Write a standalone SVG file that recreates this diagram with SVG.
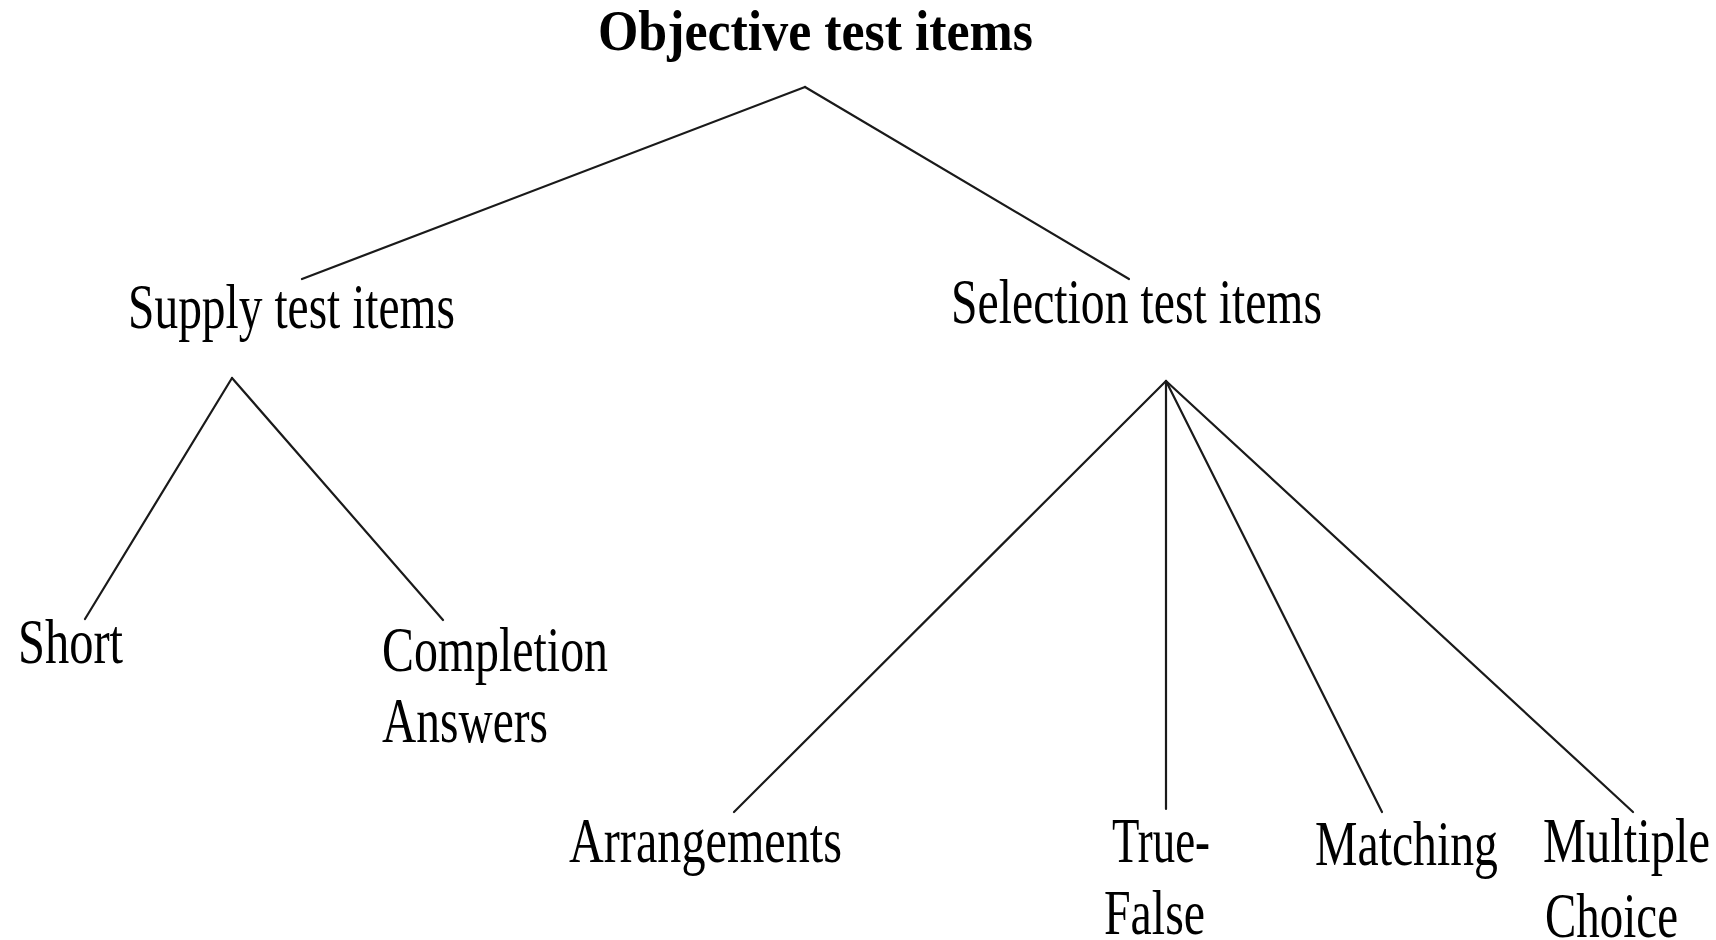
<svg xmlns="http://www.w3.org/2000/svg" width="1716" height="940" viewBox="0 0 1716 940">
<style>
text{font-family:"Liberation Serif","Times New Roman",serif;fill:#000;}
.t{font-size:56px;font-weight:bold;}
.n{font-size:63px;}
.c line{stroke:#1a1a1a;stroke-width:2.2;stroke-linecap:round;}
</style>
<rect width="1716" height="940" fill="#fff"/>
<g id="connectors" class="c">
<line x1="805" y1="87" x2="302" y2="279"/>
<line x1="805" y1="87" x2="1129" y2="279"/>
<line x1="232" y1="378" x2="85" y2="619"/>
<line x1="232" y1="378" x2="443" y2="620"/>
<line x1="1166" y1="381" x2="734" y2="812"/>
<line x1="1166" y1="381" x2="1166" y2="809"/>
<line x1="1166" y1="381" x2="1382" y2="812"/>
<line x1="1166" y1="381" x2="1633" y2="812"/>
</g>
<g id="objective"><text class="t" x="598" y="50" textLength="435" lengthAdjust="spacingAndGlyphs">Objective test items</text></g>
<g id="supply"><text class="n" x="128" y="328" textLength="327" lengthAdjust="spacingAndGlyphs">Supply test items</text></g>
<g id="selection"><text class="n" x="951" y="323" textLength="371" lengthAdjust="spacingAndGlyphs">Selection test items</text></g>
<g id="short"><text class="n" x="18" y="663" textLength="105" lengthAdjust="spacingAndGlyphs">Short</text></g>
<g id="completion"><text class="n" x="382" y="671" textLength="226" lengthAdjust="spacingAndGlyphs">Completion</text><text class="n" x="382" y="742" textLength="166" lengthAdjust="spacingAndGlyphs">Answers</text></g>
<g id="arrangements"><text class="n" x="569" y="862" textLength="273" lengthAdjust="spacingAndGlyphs">Arrangements</text></g>
<g id="truefalse"><text class="n" x="1112" y="862" textLength="98" lengthAdjust="spacingAndGlyphs">True-</text><text class="n" x="1104" y="934" textLength="101" lengthAdjust="spacingAndGlyphs">False</text></g>
<g id="matching"><text class="n" x="1315" y="865" textLength="183" lengthAdjust="spacingAndGlyphs">Matching</text></g>
<g id="multiple"><text class="n" x="1543" y="862" textLength="167" lengthAdjust="spacingAndGlyphs">Multiple</text><text class="n" x="1545" y="937" textLength="133" lengthAdjust="spacingAndGlyphs">Choice</text></g>
</svg>
